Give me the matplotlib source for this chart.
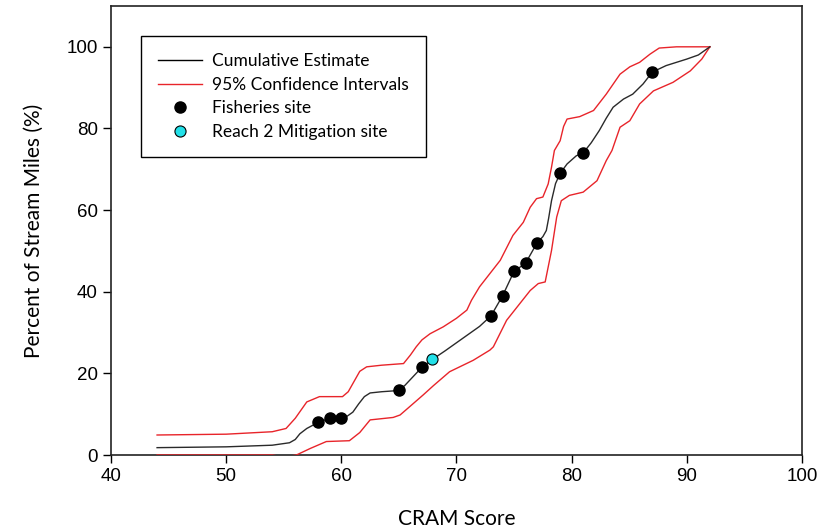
import matplotlib
matplotlib.use("Agg")
import matplotlib.pyplot as plt
from matplotlib.lines import Line2D

# Cumulative estimate (CRAM score, percent of stream miles)
est_x = [44, 50, 54, 55.5, 56, 56.4, 57, 58, 59, 60, 60.5, 61, 61.5, 62, 62.5, 63.5, 64.5, 65,
         65.5, 66, 66.5, 67, 67.9, 69, 70, 71, 72, 73, 74, 74.5, 75, 75.5, 76, 76.5, 77, 77.5,
         77.8, 78, 78.25, 78.6, 79, 79.6, 80.4, 81, 81.7, 82.4, 83, 83.6, 84.5, 85.3, 86.2, 87,
         88.2, 90, 91, 92]
est_y = [1.8, 2.0, 2.4, 3.0, 3.8, 5.2, 6.5, 8.0, 9.0, 9.0, 9.5, 10.5, 12.5, 14.3, 15.2, 15.5, 15.7, 16.0,
         17.0, 18.5, 20.0, 21.5, 23.4, 25.5, 27.5, 29.5, 31.5, 34.1, 39.0, 42.0, 45.0, 46.0, 47.0, 49.5, 52.0, 53.5,
         55.0, 58.0, 62.3, 66.5, 69.0, 71.3, 73.3, 74.0, 76.5, 79.5, 82.5, 85.2, 87.2, 88.4, 90.9, 93.8,
         95.4, 97.0, 98.0, 100.0]

# Upper 95% confidence interval
up_x = [44, 50, 54, 55.2, 56, 56.4, 57, 58.1, 60.1, 60.6, 61, 61.6, 62.2, 63.5, 65.4, 66, 66.5, 67,
        67.7, 68.85, 70, 70.9, 71.3, 72, 73.8, 74.9, 75.8, 76.4, 76.95, 77.5, 77.96, 78.25, 78.5,
        79, 79.3, 79.6, 80.7, 81.9, 83, 84.2, 85.05, 85.9, 86.8, 87.6, 89.1, 92]
up_y = [4.9, 5.1, 5.7, 6.5, 9.0, 10.6, 13.0, 14.3, 14.3, 15.5, 17.5, 20.5, 21.6, 22.0, 22.4, 24.5, 26.5, 28.2,
        29.7, 31.4, 33.5, 35.5, 37.9, 41.2, 47.7, 53.8, 57.0, 60.7, 62.8, 63.2, 66.4, 70.5, 74.6,
        77.0, 80.5, 82.3, 82.9, 84.4, 88.4, 93.3, 95.1, 96.2, 98.2, 99.7, 100.0, 100.0]

# Lower 95% confidence interval
lo_x = [44, 54, 55, 56.1, 57.3, 58.7, 60.7, 61.6, 62.5, 64.5, 65.1, 66, 67.1, 68, 69.4, 71.45, 72.9,
        73.2, 74.35, 75.5, 76.4, 77.1, 77.7, 78.25, 78.7, 79.1, 79.8, 81, 82.2, 83, 83.5, 84.2,
        85.05, 85.9, 87.1, 88.8, 90.3, 91.3, 92]
lo_y = [0.0, 0.0, -0.5, 0.0, 1.6, 3.3, 3.5, 5.5, 8.6, 9.2, 9.8, 12.0, 14.7, 17.0, 20.4, 23.2, 25.7,
        26.5, 33.0, 37.1, 40.3, 42.0, 42.4, 50.1, 58.3, 62.3, 63.6, 64.4, 67.2, 72.1, 74.6, 80.3,
        81.9, 86.0, 89.2, 91.3, 94.1, 97.0, 100.0]

# Sites
fish_x = [58, 59, 60, 65, 67, 73, 74, 75, 76, 77, 79, 81, 87]
fish_y = [8.0, 9.0, 9.0, 16.0, 21.5, 34.1, 39.0, 45.0, 47.0, 52.0, 69.0, 74.0, 93.8]
mit_x = [67.9]
mit_y = [23.4]

x_ticks = [40, 50, 60, 70, 80, 90, 100]
y_ticks = [0, 20, 40, 60, 80, 100]

label_font = "Lato"
tick_font = "Liberation Sans"

fig = plt.figure(figsize=(8.29, 5.29), dpi=100)
ax = fig.add_axes([111 / 829, 74 / 529, 691 / 829, 449 / 529])

ax.plot(lo_x, lo_y, color="#e8242a", lw=1.0, zorder=3)
ax.plot(up_x, up_y, color="#e8242a", lw=1.0, zorder=3)
ax.plot(est_x, est_y, color="#2a2a2a", lw=1.0, zorder=3.5)
ax.plot(fish_x, fish_y, "o", color="black", markersize=8, zorder=4, linestyle="none")
ax.plot(mit_x, mit_y, "o", markerfacecolor="#22e0e8", markeredgecolor="black",
        markeredgewidth=0.8, markersize=8, zorder=5, linestyle="none")

ax.set_xlim(40, 100)
ax.set_ylim(0, 110)
ax.set_xticks(x_ticks)
ax.set_yticks(y_ticks)
ax.tick_params(direction="out", length=6, width=1.0, labelsize=13.5, colors="black")
for lab in ax.get_xticklabels() + ax.get_yticklabels():
    lab.set_fontfamily(tick_font)
for s in ax.spines.values():
    s.set_linewidth(1.2)
    s.set_color("#222222")

ax.set_xlabel("CRAM Score", fontsize=15, fontfamily=label_font, labelpad=17)
ax.set_ylabel("Percent of Stream Miles (%)", fontsize=15, fontfamily=label_font, labelpad=16)

handles = [
    Line2D([], [], color="black", lw=1.0),
    Line2D([], [], color="#e8242a", lw=1.0),
    Line2D([], [], marker="o", color="black", linestyle="none", markersize=8),
    Line2D([], [], marker="o", markerfacecolor="#22e0e8", markeredgecolor="black",
           markeredgewidth=0.8, linestyle="none", markersize=8),
]
labels = ["Cumulative Estimate", "95% Confidence Intervals", "Fisheries site", "Reach 2 Mitigation site"]
leg = ax.legend(handles, labels, loc="upper left", bbox_to_anchor=(0.044, 0.933),
                borderaxespad=0, fancybox=False, edgecolor="black", framealpha=1,
                prop={"family": label_font, "size": 12.5}, handlelength=2.5,
                handletextpad=0.6, labelspacing=0.44, borderpad=0.98)
leg.get_frame().set_linewidth(1.0)

fig.savefig("out.png", dpi=100)
